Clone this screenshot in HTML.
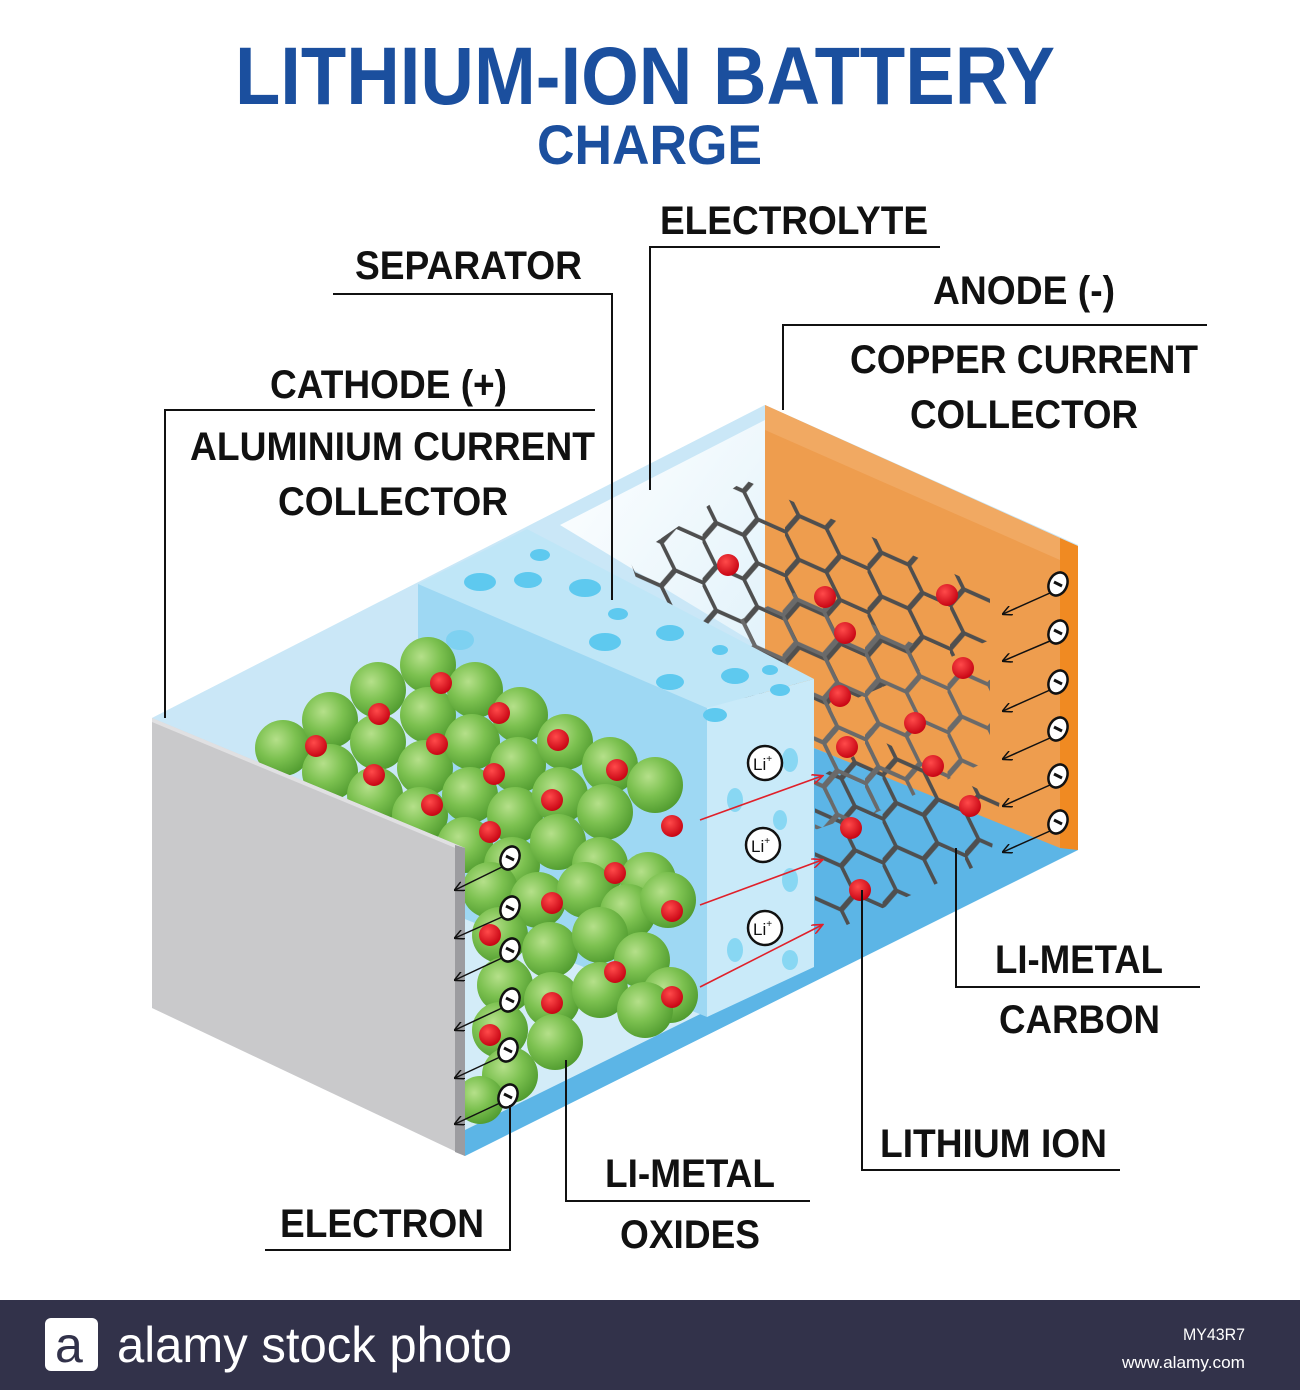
<!DOCTYPE html>
<html><head><meta charset="utf-8"><style>
html,body{margin:0;padding:0;background:#fff;}
svg{display:block;}
text{font-family:"Liberation Sans",sans-serif;font-weight:bold;}
</style></head><body>
<svg width="1300" height="1390" viewBox="0 0 1300 1390" xmlns="http://www.w3.org/2000/svg">
<defs>
<radialGradient id="g" cx="0.38" cy="0.35" r="0.7">
<stop offset="0" stop-color="#b5e08a"/><stop offset="0.5" stop-color="#7cc150"/><stop offset="1" stop-color="#4f9a2e"/>
</radialGradient>
<radialGradient id="r" cx="0.4" cy="0.35" r="0.7">
<stop offset="0" stop-color="#ff4a4a"/><stop offset="1" stop-color="#c40010"/>
</radialGradient>
<linearGradient id="el" x1="0" y1="0" x2="1" y2="1">
<stop offset="0" stop-color="#ffffff"/><stop offset="1" stop-color="#d8eef9"/>
</linearGradient>
<pattern id="hex" width="66" height="38.1" patternUnits="userSpaceOnUse" patternTransform="translate(620,480) skewY(24) scale(1.25,1.15)">
<path d="M0,19 L11,0 L33,0 L44,19 L33,38.1 L11,38.1 Z M44,19 L66,19" fill="none" stroke="#4f4f4f" stroke-width="3.6"/>
</pattern>
<pattern id="hex2" width="66" height="38.1" patternUnits="userSpaceOnUse" patternTransform="translate(700,600) skewY(24) scale(1.25,1.15)">
<path d="M0,19 L11,0 L33,0 L44,19 L33,38.1 L11,38.1 Z M44,19 L66,19" fill="none" stroke="#6a6a6a" stroke-width="3.6"/>
</pattern>
<pattern id="hex3" width="66" height="38.1" patternUnits="userSpaceOnUse" patternTransform="translate(800,760) skewY(24) scale(1.25,1.15)">
<path d="M0,19 L11,0 L33,0 L44,19 L33,38.1 L11,38.1 Z M44,19 L66,19" fill="none" stroke="#4f4f4f" stroke-width="3.6"/>
</pattern>
<marker id="ab" markerWidth="10" markerHeight="10" refX="9" refY="5" orient="auto" markerUnits="userSpaceOnUse"><path d="M0,0 L10,5 L0,10" fill="none" stroke="#111" stroke-width="1.5"/></marker>
<marker id="ar" markerWidth="12" markerHeight="10" refX="10" refY="5" orient="auto" markerUnits="userSpaceOnUse"><path d="M0,0 L11,5 L0,10" fill="none" stroke="#e0202a" stroke-width="1.6"/></marker>
</defs>

<text x="235" y="104" font-size="82" fill="#1b4f9e" textLength="820" lengthAdjust="spacingAndGlyphs">LITHIUM-ION BATTERY</text>
<text x="537" y="164" font-size="56" fill="#1b4f9e" textLength="225" lengthAdjust="spacingAndGlyphs">CHARGE</text>

<polygon points="152,718 765,405 1078,545 1078,850 465,1156 465,848" fill="#d3ecf8"/>
<polygon points="152,718 765,405 1078,545 465,848" fill="#c6e6f6" opacity="0.7"/>
<polygon points="560,525 765,420 765,740 814,760 814,679" fill="url(#el)"/>
<polygon points="765,405 1060,538 1060,850 814,748 765,730" fill="#ee9d4e"/>
<polygon points="765,405 1060,538 1060,560 765,430" fill="#f4b070" opacity="0.6"/>
<polygon points="1060,538 1078,546 1078,850 1060,850" fill="#f08a22"/>
<polygon points="465,1130 814,958 814,748 1060,848 1078,850 465,1156" fill="#5cb5e6"/>

<polygon points="630,560 745,480 990,590 990,640 830,710 640,590" fill="url(#hex)"/>
<polygon points="740,620 800,590 990,680 990,760 860,820 740,740" fill="url(#hex2)"/>
<polygon points="815,780 880,740 1000,800 990,860 900,900 815,940" fill="url(#hex3)"/>
<polygon points="815,720 845,700 900,760 900,800 815,830" fill="url(#hex2)"/>

<polygon points="418,584 527,529 814,679 707,708" fill="#bfe6f7"/>
<polygon points="418,584 707,708 707,1017 418,900" fill="#9ed8f3"/>
<polygon points="707,708 814,679 814,967 707,1017" fill="#c9eaf9"/>
<g fill="#5ec9ef">
<ellipse cx="480" cy="582" rx="16" ry="9"/><ellipse cx="528" cy="580" rx="14" ry="8"/><ellipse cx="540" cy="555" rx="10" ry="6"/>
<ellipse cx="585" cy="588" rx="16" ry="9"/><ellipse cx="618" cy="614" rx="10" ry="6"/><ellipse cx="605" cy="642" rx="16" ry="9"/>
<ellipse cx="670" cy="633" rx="14" ry="8"/><ellipse cx="720" cy="650" rx="8" ry="5"/><ellipse cx="670" cy="682" rx="14" ry="8"/>
<ellipse cx="735" cy="676" rx="14" ry="8"/><ellipse cx="770" cy="670" rx="8" ry="5"/><ellipse cx="780" cy="690" rx="10" ry="6"/>
<ellipse cx="715" cy="715" rx="12" ry="7"/><ellipse cx="460" cy="640" rx="14" ry="10" opacity="0.5"/>
<ellipse cx="790" cy="760" rx="8" ry="12" opacity="0.6"/><ellipse cx="735" cy="800" rx="8" ry="12" opacity="0.6"/>
<ellipse cx="790" cy="880" rx="8" ry="12" opacity="0.6"/><ellipse cx="735" cy="950" rx="8" ry="12" opacity="0.6"/>
<ellipse cx="790" cy="960" rx="8" ry="10" opacity="0.6"/><ellipse cx="780" cy="820" rx="7" ry="10" opacity="0.6"/>
</g>

<g fill="url(#g)">
<circle cx="283" cy="748" r="28"/><circle cx="330" cy="720" r="28"/><circle cx="378" cy="690" r="28"/><circle cx="428" cy="665" r="28"/>
<circle cx="330" cy="772" r="28"/><circle cx="378" cy="742" r="28"/><circle cx="428" cy="715" r="28"/><circle cx="475" cy="690" r="28"/><circle cx="520" cy="715" r="28"/>
<circle cx="375" cy="795" r="28"/><circle cx="425" cy="768" r="28"/><circle cx="472" cy="742" r="28"/><circle cx="518" cy="765" r="28"/><circle cx="565" cy="742" r="28"/><circle cx="610" cy="765" r="28"/><circle cx="655" cy="785" r="28"/>
<circle cx="420" cy="815" r="28"/><circle cx="470" cy="795" r="28"/><circle cx="515" cy="815" r="28"/><circle cx="560" cy="795" r="28"/><circle cx="605" cy="812" r="28"/>
<circle cx="465" cy="845" r="28"/><circle cx="512" cy="865" r="28"/><circle cx="558" cy="842" r="28"/><circle cx="600" cy="865" r="28"/><circle cx="648" cy="880" r="28"/>
<circle cx="490" cy="890" r="28"/><circle cx="538" cy="900" r="28"/><circle cx="585" cy="890" r="28"/><circle cx="628" cy="912" r="28"/><circle cx="668" cy="900" r="28"/>
<circle cx="500" cy="935" r="28"/><circle cx="550" cy="950" r="28"/><circle cx="600" cy="935" r="28"/><circle cx="642" cy="960" r="28"/><circle cx="670" cy="995" r="28"/>
<circle cx="505" cy="985" r="28"/><circle cx="552" cy="1000" r="28"/><circle cx="600" cy="990" r="28"/><circle cx="645" cy="1010" r="28"/>
<circle cx="500" cy="1030" r="28"/><circle cx="555" cy="1042" r="28"/><circle cx="510" cy="1075" r="28"/><circle cx="480" cy="1100" r="24"/>
</g>
<g fill="url(#r)">
<circle cx="441" cy="683" r="11"/><circle cx="379" cy="714" r="11"/><circle cx="499" cy="713" r="11"/><circle cx="316" cy="746" r="11"/><circle cx="437" cy="744" r="11"/>
<circle cx="558" cy="740" r="11"/><circle cx="374" cy="775" r="11"/><circle cx="494" cy="774" r="11"/><circle cx="617" cy="770" r="11"/><circle cx="432" cy="805" r="11"/>
<circle cx="552" cy="800" r="11"/><circle cx="490" cy="832" r="11"/><circle cx="672" cy="826" r="11"/><circle cx="615" cy="873" r="11"/><circle cx="552" cy="903" r="11"/>
<circle cx="672" cy="911" r="11"/><circle cx="490" cy="935" r="11"/><circle cx="615" cy="972" r="11"/><circle cx="552" cy="1003" r="11"/><circle cx="672" cy="997" r="11"/><circle cx="490" cy="1035" r="11"/>
<circle cx="728" cy="565" r="11"/><circle cx="825" cy="597" r="11"/><circle cx="947" cy="595" r="11"/><circle cx="845" cy="633" r="11"/><circle cx="963" cy="668" r="11"/>
<circle cx="840" cy="696" r="11"/><circle cx="915" cy="723" r="11"/><circle cx="847" cy="747" r="11"/><circle cx="933" cy="766" r="11"/><circle cx="970" cy="806" r="11"/>
<circle cx="851" cy="828" r="11"/><circle cx="860" cy="890" r="11"/>
</g>

<polygon points="152,718 465,848 465,1156 152,1008" fill="#c9c9cb"/>
<polygon points="152,718 465,848 465,852 152,722" fill="#e0e0e2"/>
<polygon points="455,845 465,848 465,1156 455,1152" fill="#9c9ca0"/>

<g stroke="#111" stroke-width="2.5" fill="#fff">
<circle cx="765" cy="763" r="17"/><circle cx="763" cy="845" r="17"/><circle cx="765" cy="928" r="17"/>
</g>
<g font-size="17" fill="#111">
<text x="753" y="770" style="font-weight:normal">Li<tspan font-size="10" dy="-8">+</tspan></text>
<text x="751" y="852" style="font-weight:normal">Li<tspan font-size="10" dy="-8">+</tspan></text>
<text x="753" y="935" style="font-weight:normal">Li<tspan font-size="10" dy="-8">+</tspan></text>
</g>
<g stroke="#e0202a" stroke-width="1.6" marker-end="url(#ar)">
<line x1="700" y1="820" x2="822" y2="776"/><line x1="700" y1="905" x2="822" y2="860"/><line x1="700" y1="987" x2="822" y2="925"/>
</g>

<g stroke="#111" stroke-width="1.5" marker-end="url(#ab)">
<line x1="502" y1="867" x2="455" y2="890"/><line x1="502" y1="917" x2="455" y2="938"/><line x1="502" y1="958" x2="455" y2="980"/>
<line x1="502" y1="1008" x2="455" y2="1030"/><line x1="500" y1="1057" x2="455" y2="1078"/><line x1="500" y1="1103" x2="455" y2="1124"/>
<line x1="1050" y1="593" x2="1003" y2="614"/><line x1="1050" y1="641" x2="1003" y2="661"/><line x1="1050" y1="690" x2="1003" y2="711"/>
<line x1="1050" y1="738" x2="1003" y2="759"/><line x1="1050" y1="785" x2="1003" y2="806"/><line x1="1050" y1="831" x2="1003" y2="852"/>
</g>
<g stroke="#111" stroke-width="2.5" fill="#fff">
<ellipse cx="510" cy="858" rx="9" ry="12" transform="rotate(25 510 858)"/><ellipse cx="510" cy="908" rx="9" ry="12" transform="rotate(25 510 908)"/>
<ellipse cx="510" cy="950" rx="9" ry="12" transform="rotate(25 510 950)"/><ellipse cx="510" cy="1000" rx="9" ry="12" transform="rotate(25 510 1000)"/>
<ellipse cx="508" cy="1050" rx="9" ry="12" transform="rotate(25 508 1050)"/><ellipse cx="508" cy="1096" rx="9" ry="12" transform="rotate(25 508 1096)"/>
<ellipse cx="1058" cy="584" rx="9" ry="12" transform="rotate(25 1058 584)"/><ellipse cx="1058" cy="632" rx="9" ry="12" transform="rotate(25 1058 632)"/>
<ellipse cx="1058" cy="682" rx="9" ry="12" transform="rotate(25 1058 682)"/><ellipse cx="1058" cy="729" rx="9" ry="12" transform="rotate(25 1058 729)"/>
<ellipse cx="1058" cy="776" rx="9" ry="12" transform="rotate(25 1058 776)"/><ellipse cx="1058" cy="822" rx="9" ry="12" transform="rotate(25 1058 822)"/>
</g>
<g stroke="#111" stroke-width="3">
<line x1="506" y1="856" x2="514" y2="860"/><line x1="506" y1="906" x2="514" y2="910"/><line x1="506" y1="948" x2="514" y2="952"/>
<line x1="506" y1="998" x2="514" y2="1002"/><line x1="504" y1="1048" x2="512" y2="1052"/><line x1="504" y1="1094" x2="512" y2="1098"/>
<line x1="1054" y1="582" x2="1062" y2="586"/><line x1="1054" y1="630" x2="1062" y2="634"/><line x1="1054" y1="680" x2="1062" y2="684"/>
<line x1="1054" y1="727" x2="1062" y2="731"/><line x1="1054" y1="774" x2="1062" y2="778"/><line x1="1054" y1="820" x2="1062" y2="824"/>
</g>

<g stroke="#111" stroke-width="2" fill="none">
<polyline points="940,247 650,247 650,490"/>
<polyline points="333,294 612,294 612,600"/>
<polyline points="1207,325 783,325 783,410"/>
<polyline points="595,410 165,410 165,718"/>
<polyline points="1200,987 956,987 956,848"/>
<polyline points="1120,1170 862,1170 862,890"/>
<polyline points="810,1201 566,1201 566,1060"/>
<polyline points="265,1250 510,1250 510,1105"/>
</g>

<g fill="#111" font-size="40">
<text x="660" y="234" textLength="268" lengthAdjust="spacingAndGlyphs">ELECTROLYTE</text>
<text x="355" y="279" textLength="227" lengthAdjust="spacingAndGlyphs">SEPARATOR</text>
<text x="933" y="304" textLength="182" lengthAdjust="spacingAndGlyphs">ANODE (-)</text>
<text x="850" y="373" textLength="348" lengthAdjust="spacingAndGlyphs">COPPER CURRENT</text>
<text x="910" y="428" textLength="228" lengthAdjust="spacingAndGlyphs">COLLECTOR</text>
<text x="270" y="398" textLength="237" lengthAdjust="spacingAndGlyphs">CATHODE (+)</text>
<text x="190" y="460" textLength="405" lengthAdjust="spacingAndGlyphs">ALUMINIUM CURRENT</text>
<text x="278" y="515" textLength="230" lengthAdjust="spacingAndGlyphs">COLLECTOR</text>
<text x="995" y="973" textLength="168" lengthAdjust="spacingAndGlyphs">LI-METAL</text>
<text x="999" y="1033" textLength="161" lengthAdjust="spacingAndGlyphs">CARBON</text>
<text x="880" y="1157" textLength="227" lengthAdjust="spacingAndGlyphs">LITHIUM ION</text>
<text x="605" y="1187" textLength="170" lengthAdjust="spacingAndGlyphs">LI-METAL</text>
<text x="620" y="1248" textLength="140" lengthAdjust="spacingAndGlyphs">OXIDES</text>
<text x="280" y="1237" textLength="204" lengthAdjust="spacingAndGlyphs">ELECTRON</text>
</g>

<rect x="0" y="1300" width="1300" height="90" fill="#32324a"/>
<rect x="45" y="1318" width="53" height="53" rx="6" fill="#fff"/>
<text x="55" y="1362" font-size="50" fill="#32324a" style="font-weight:normal">a</text>
<text x="117" y="1362" font-size="50" fill="#fff" style="font-weight:normal" textLength="395" lengthAdjust="spacingAndGlyphs">alamy stock photo</text>
<text x="1183" y="1340" font-size="17" fill="#fff" style="font-weight:normal" textLength="62" lengthAdjust="spacingAndGlyphs">MY43R7</text>
<text x="1122" y="1368" font-size="17" fill="#fff" style="font-weight:normal" textLength="123" lengthAdjust="spacingAndGlyphs">www.alamy.com</text>
</svg>
</body></html>
